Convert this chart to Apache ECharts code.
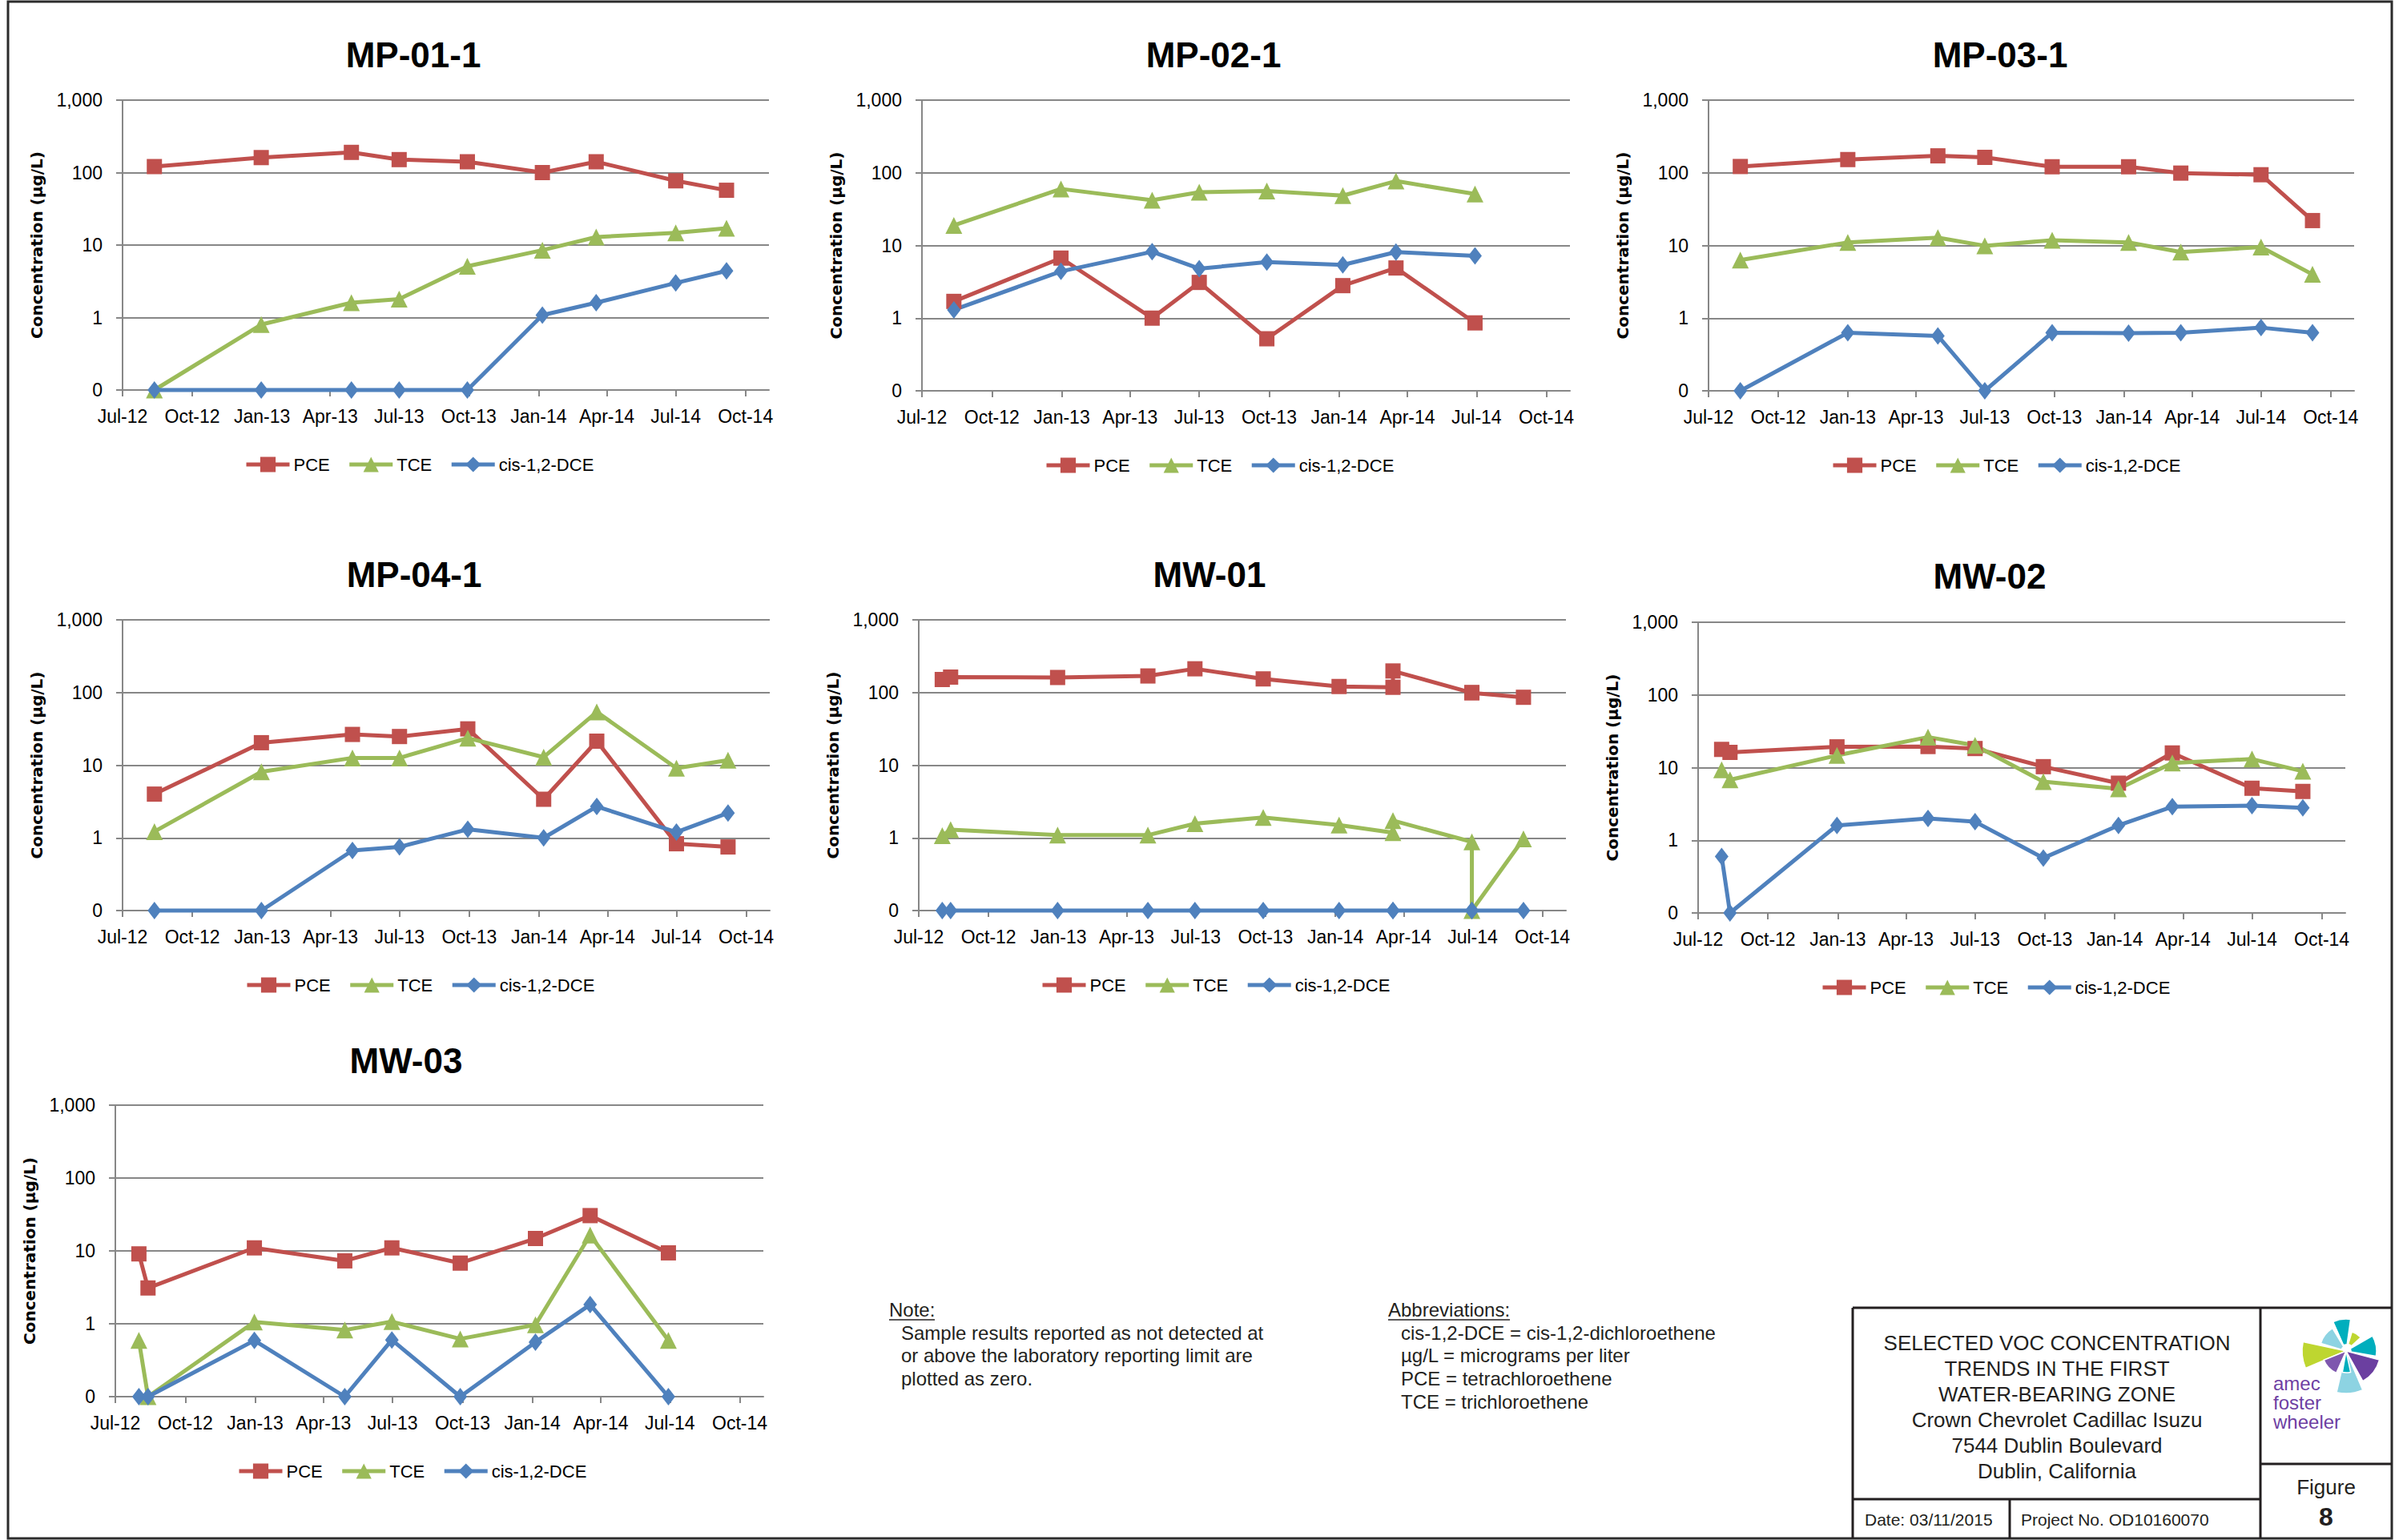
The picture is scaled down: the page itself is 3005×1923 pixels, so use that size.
<!DOCTYPE html>
<html>
<head>
<meta charset="utf-8">
<title>Selected VOC Concentration Trends</title>
<script src="https://cdn.jsdelivr.net/npm/echarts@6/dist/echarts.min.js"></script>
<style>
  html, body { margin: 0; padding: 0; background: #ffffff; }
  #chart { width: 3005px; height: 1923px; }
</style>
</head>
<body>
<div id="chart"></div>
<script>
// ---- Sampling dates and concentrations (µg/L); 0 = not detected ----
const mp011Dates = ['2012-08-12', '2012-12-31', '2013-04-29', '2013-07-01', '2013-09-29', '2014-01-06', '2014-03-18', '2014-07-01', '2014-09-06'];
const mp011PCE = [121, 161, 190, 151, 141, 100, 141, 77, 57];
const mp011TCE = [0, 0.8, 1.6, 1.8, 5.1, 8.5, 12.9, 14.7, 17.1];
const mp011DCE = [0, 0, 0, 0, 0, 1.08, 1.6, 3.0, 4.4];

const mp021Dates = ['2012-08-12', '2012-12-31', '2013-04-30', '2013-07-01', '2013-09-28', '2014-01-06', '2014-03-17', '2014-06-29'];
const mp021PCE = [1.7, 6.7, 1.0, 3.1, 0.52, 2.8, 4.9, 0.86];
const mp021TCE = [18.9, 60, 42, 54, 56, 48.5, 77, 51];
const mp021DCE = [1.3, 4.4, 8.2, 4.8, 5.9, 5.4, 8.1, 7.2];

const mp031Dates = ['2012-08-12', '2013-01-01', '2013-04-30', '2013-07-01', '2013-09-28', '2014-01-07', '2014-03-17', '2014-07-01', '2014-09-07'];
const mp031PCE = [122, 152, 171, 163, 121, 121, 99, 94, 22];
const mp031TCE = [6.3, 11, 12.8, 9.9, 11.8, 11, 8.1, 9.5, 4.0];
const mp031DCE = [0, 0.63, 0.57, 0, 0.63, 0.62, 0.63, 0.74, 0.63];

const mp041Dates = ['2012-08-12', '2012-12-31', '2013-04-30', '2013-07-01', '2013-09-29', '2014-01-07', '2014-03-18', '2014-07-01', '2014-09-07'];
const mp041PCE = [4.0, 20.4, 26.5, 24.8, 31.6, 3.4, 21.4, 0.83, 0.75];
const mp041TCE = [1.22, 8.1, 12.6, 12.6, 23.6, 12.9, 54, 9.1, 11.7];
const mp041DCE = [0, 0, 0.67, 0.75, 1.31, 1.0, 2.7, 1.2, 2.2];

const mw01Dates = ['2012-08-01', '2012-08-12', '2012-12-31', '2013-04-29', '2013-06-30', '2013-09-28', '2014-01-06', '2014-03-18', '2014-03-18', '2014-06-30', '2014-06-30', '2014-09-06'];
const mw01PCE = [151, 163, 161, 169, 212, 154, 121, 118, 198, 99, 100, 86];
const mw01TCE = [1.07, 1.3, 1.09, 1.09, 1.57, 1.91, 1.5, 1.18, 1.73, 0.88, 0, 0.97];
const mw01DCE = [0, 0, 0, 0, 0, 0, 0, 0, 0, 0, 0, 0];

const mw02Dates = ['2012-08-01', '2012-08-12', '2012-12-31', '2013-04-30', '2013-07-01', '2013-09-29', '2014-01-06', '2014-03-18', '2014-07-01', '2014-09-06'];
const mw02PCE = [17.8, 16.2, 19.3, 19.5, 18.3, 10.3, 6.1, 15.9, 5.2, 4.7];
const mw02TCE = [9.3, 6.8, 14.7, 26.3, 20.2, 6.4, 5.1, 11.6, 13.1, 8.9];
const mw02DCE = [0.6, 0, 1.6, 2.0, 1.8, 0.57, 1.6, 2.9, 3.0, 2.8];

const mw03Dates = ['2012-08-01', '2012-08-13', '2012-12-31', '2013-04-29', '2013-06-30', '2013-09-28', '2014-01-05', '2014-03-18', '2014-06-29'];
const mw03PCE = [9.1, 3.1, 11, 7.3, 11, 6.8, 14.8, 30.5, 9.4];
const mw03TCE = [0.59, 0, 1.06, 0.82, 1.07, 0.62, 0.97, 16.5, 0.59];
const mw03DCE = [0, 0, 0.59, 0, 0.6, 0, 0.56, 1.83, 0];

// ---- Axis ticks ----
const quarterTicks = ['2012-07-01', '2012-10-01', '2013-01-01', '2013-04-01', '2013-07-01', '2013-10-01', '2014-01-01', '2014-04-01', '2014-07-01', '2014-10-01'];
const quarterLabels = ['Jul-12', 'Oct-12', 'Jan-13', 'Apr-13', 'Jul-13', 'Oct-13', 'Jan-14', 'Apr-14', 'Jul-14', 'Oct-14'];
const axisEndDate = '2014-11-01';
const logTicks = [0.1, 1, 10, 100, 1000];
const logLabels = ['0', '1', '10', '100', '1,000'];

const seriesNames = ['PCE', 'TCE', 'cis-1,2-DCE'];

const wells = [
  { name: 'MP-01-1', dates: mp011Dates, values: [mp011PCE, mp011TCE, mp011DCE] },
  { name: 'MP-02-1', dates: mp021Dates, values: [mp021PCE, mp021TCE, mp021DCE] },
  { name: 'MP-03-1', dates: mp031Dates, values: [mp031PCE, mp031TCE, mp031DCE] },
  { name: 'MP-04-1', dates: mp041Dates, values: [mp041PCE, mp041TCE, mp041DCE] },
  { name: 'MW-01', dates: mw01Dates, values: [mw01PCE, mw01TCE, mw01DCE] },
  { name: 'MW-02', dates: mw02Dates, values: [mw02PCE, mw02TCE, mw02DCE] },
  { name: 'MW-03', dates: mw03Dates, values: [mw03PCE, mw03TCE, mw03DCE] }
];

// ---- Panel placement on the sheet (plot area box, title centre) ----
const panels = [
  { left: 153, top: 125, width: 807, height: 362, cx: 516, ty: 69 },
  { left: 1151, top: 125, width: 809, height: 363, cx: 1515, ty: 69 },
  { left: 2133, top: 125, width: 806, height: 363, cx: 2497, ty: 69 },
  { left: 153, top: 774, width: 808, height: 363, cx: 517, ty: 718 },
  { left: 1147, top: 774, width: 808, height: 363, cx: 1510, ty: 718 },
  { left: 2120, top: 777, width: 808, height: 363, cx: 2484, ty: 720 },
  { left: 144, top: 1380, width: 809, height: 364, cx: 507, ty: 1325 }
];

const COLORS = ['#C0504D', '#9BBB59', '#4F81BD'];
const SYMBOLS = ['rect', 'triangle', 'diamond'];
const SYMBOL_SIZES = [19, 21, [17, 22]];
const GRID_COLOR = '#878787';
const FONT = "'Liberation Sans', Arial, sans-serif";

const toTs = s => { const p = s.split('-').map(Number); return Date.UTC(p[0], p[1] - 1, p[2]); };
const tickTs = quarterTicks.map(toTs);
const xMin = tickTs[0];
const xMax = toTs(axisEndDate);
const floorValue = logTicks[0];   // non-detects sit on the "0" line of the log axis

const option = {
  animation: false,
  backgroundColor: '#ffffff',
  title: [], legend: [], grid: [], xAxis: [], yAxis: [], series: [],
  graphic: { elements: [] }
};

wells.forEach((w, i) => {
  const p = panels[i];
  option.title.push({
    text: w.name, left: p.cx, top: p.ty - 23, textAlign: 'center', padding: 0,
    textStyle: { fontFamily: FONT, fontWeight: 'bold', fontSize: 44, color: '#000' }
  });
  option.legend.push({
    data: seriesNames, left: p.cx - 211, top: p.top + p.height + 94 - 12, padding: 0,
    itemWidth: 54, itemHeight: 24, itemGap: 22, selectedMode: false,
    lineStyle: { width: 5 },
    textStyle: { fontFamily: FONT, fontSize: 22, color: '#000' }
  });
  option.grid.push({ left: p.left, top: p.top, width: p.width, height: p.height, containLabel: false });
  option.xAxis.push({
    type: 'value', gridIndex: i, min: xMin, max: xMax,
    splitLine: { show: false },
    axisLine: { show: true, onZero: false, lineStyle: { color: GRID_COLOR, width: 2 } },
    axisTick: { show: true, customValues: tickTs, length: 8, lineStyle: { color: GRID_COLOR, width: 2 } },
    axisLabel: {
      customValues: tickTs, margin: 21, fontFamily: FONT, fontSize: 23, color: '#000',
      formatter: v => { const k = tickTs.indexOf(v); return k >= 0 ? quarterLabels[k] : ''; }
    }
  });
  option.yAxis.push({
    type: 'log', logBase: 10, gridIndex: i, min: logTicks[0], max: logTicks[logTicks.length - 1],
    name: 'Concentration (µg/L)', nameLocation: 'middle', nameGap: 97, nameRotate: 90,
    nameTextStyle: { fontFamily: "'DejaVu Sans', Verdana, sans-serif", fontWeight: 'bold', fontSize: 20, color: '#000' },
    axisLine: { show: true, lineStyle: { color: GRID_COLOR, width: 2 } },
    axisTick: { show: true, length: 8, lineStyle: { color: GRID_COLOR, width: 2 } },
    splitLine: { show: true, lineStyle: { color: GRID_COLOR, width: 2 } },
    axisLabel: {
      margin: 25, fontFamily: FONT, fontSize: 23, color: '#000',
      formatter: v => logLabels[Math.round(Math.log10(v)) + 1]
    }
  });
  w.values.forEach((vals, s) => {
    option.series.push({
      type: 'line', name: seriesNames[s], xAxisIndex: i, yAxisIndex: i,
      data: w.dates.map((d, k) => [toTs(d), vals[k] === 0 ? floorValue : vals[k]]),
      symbol: SYMBOLS[s], symbolSize: SYMBOL_SIZES[s], showSymbol: true, showAllSymbol: true,
      clip: false, color: COLORS[s],
      lineStyle: { width: 5, color: COLORS[s] },
      itemStyle: { color: COLORS[s] },
      emphasis: { disabled: true }
    });
  });
});

// ---- Sheet frame, notes and title block ----
const g = option.graphic.elements;
const INK = '#231f20';
const line = (x1, y1, x2, y2, w) => g.push({ type: 'line', shape: { x1, y1, x2, y2 }, style: { stroke: INK, lineWidth: w || 3 }, silent: true });
const text = (str, x, y, font, align, fill) => g.push({
  type: 'text', x, y, silent: true,
  style: { text: str, font, fill: fill || INK, textAlign: align || 'left', align: align || 'left', textVerticalAlign: 'middle', verticalAlign: 'middle' }
});

g.push({ type: 'rect', shape: { x: 10, y: 2, width: 2976, height: 1919 }, style: { fill: null, stroke: '#2b2b2b', lineWidth: 3 }, silent: true });

// Note
const NOTE_FONT = "24px 'Liberation Sans', Arial, sans-serif";
text('Note:', 1110, 1635, NOTE_FONT);
line(1110, 1648, 1167, 1648, 1.5);
text('Sample results reported as not detected at', 1125, 1664, NOTE_FONT);
text('or above the laboratory reporting limit are', 1125, 1692, NOTE_FONT);
text('plotted as zero.', 1125, 1721, NOTE_FONT);

// Abbreviations
text('Abbreviations:', 1733, 1635, NOTE_FONT);
line(1733, 1648, 1885, 1648, 1.5);
text('cis-1,2-DCE = cis-1,2-dichloroethene', 1749, 1664, NOTE_FONT);
text('µg/L = micrograms per liter', 1749, 1692, NOTE_FONT);
text('PCE = tetrachloroethene', 1749, 1721, NOTE_FONT);
text('TCE = trichloroethene', 1749, 1750, NOTE_FONT);

// Title block
line(2313, 1633, 2986, 1633);
line(2313, 1633, 2313, 1921);
line(2313, 1872, 2822, 1872);
line(2509, 1872, 2509, 1921);
line(2822, 1633, 2822, 1921);
line(2822, 1828, 2986, 1828);
const TB_FONT = "26px 'Liberation Sans', Arial, sans-serif";
['SELECTED VOC CONCENTRATION', 'TRENDS IN THE FIRST', 'WATER-BEARING ZONE',
 'Crown Chevrolet Cadillac Isuzu', '7544 Dublin Boulevard', 'Dublin, California']
  .forEach((s, k) => text(s, 2568, 1677 + k * 32, TB_FONT, 'center'));
text('Date: 03/11/2015', 2328, 1897, "21px 'Liberation Sans', Arial, sans-serif");
text('Project No. OD10160070', 2523, 1897, "21px 'Liberation Sans', Arial, sans-serif");
text('Figure', 2904, 1857, TB_FONT, 'center');
text('8', 2904, 1894, "bold 32px 'Liberation Sans', Arial, sans-serif", 'center');

// Company mark: radiating wedges plus wordmark
const LX = 2929, LY = 1687;
const deg = a => a * Math.PI / 180;
const wedge = (a1, a2, r0, r, fill) => g.push({
  type: 'sector', silent: true,
  shape: { cx: LX, cy: LY, r0, r, startAngle: deg(-a2), endAngle: deg(-a1), clockwise: true },
  style: { fill, stroke: '#ffffff', lineWidth: 1.5 }
});
wedge(121, 163, 6, 33, '#8DD3E2');
wedge(168, 203, 0, 55, '#BED630');
wedge(82, 114, 8, 40, '#00AEBD');
wedge(43, 73, 9, 25, '#BED630');
wedge(-10, 30, 6, 38, '#00AEBD');
wedge(-61, -15, 0, 43, '#6B3FA0');
wedge(202, 246, 0, 30, '#7E57AE');
wedge(-103, -67, 0, 53, '#8DD3E2');
wedge(-100, -78, 0, 27, '#00AEBD');
const MARK_FONT = "24px 'Liberation Sans', Arial, sans-serif";
text('amec', 2838, 1727, MARK_FONT, 'left', '#6E3FA3');
text('foster', 2838, 1751, MARK_FONT, 'left', '#6E3FA3');
text('wheeler', 2838, 1775, MARK_FONT, 'left', '#6E3FA3');

const chart = echarts.init(document.getElementById('chart'), null, { renderer: 'svg' });
chart.setOption(option);
</script>
</body>
</html>
